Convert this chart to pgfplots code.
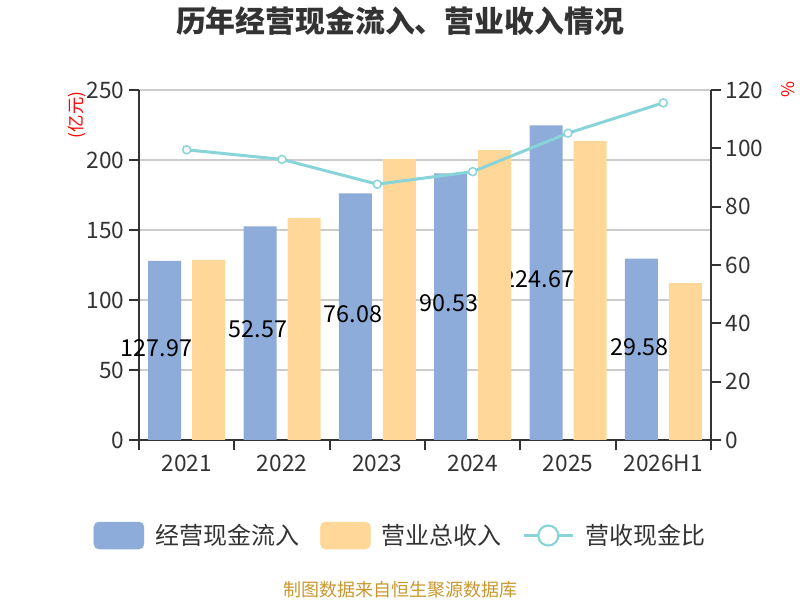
\documentclass[border=0pt]{standalone}
\usepackage{fontspec}
\setmainfont{Noto Sans CJK SC}
\usepackage{pgfplots}
\usepackage{pgfplotstable}
\pgfplotsset{compat=1.18}
\definecolor{cblue}{HTML}{8EACDA}
\definecolor{corange}{HTML}{FFD899}
\definecolor{cline}{HTML}{88D4D8}
\definecolor{axcol}{HTML}{333333}
\definecolor{gridcol}{HTML}{CCCCCC}
\definecolor{srccol}{HTML}{C8982E}

\pgfplotstableread{
x y
0 127.97
1 152.57
2 176.08
3 190.53
4 224.67
5 129.58
}\cash
\pgfplotstableread{
x y
0 128.6
1 158.6
2 200.7
3 207.0
4 213.6
5 112.1
}\rev
\pgfplotstableread{
x y label
-0.3164 65.4 127.97
0.7483 78.9 52.57
1.7448 89.6 76.08
2.7518 97.9 90.53
3.6906 114.6 224.67
4.7513 66.1 29.58
}\labs
\pgfplotstableread{
x y
0 99.5
1 96.2
2 87.7
3 92.0
4 105.2
5 115.6
}\ratio

\begin{document}
\begin{tikzpicture}
\useasboundingbox (0,0) rectangle (600pt,450pt);
\pgfplotsset{base/.style={
  at={(104.25pt,120pt)}, anchor=south west, scale only axis,
  width=429pt, height=262.5pt, xmin=-0.5, xmax=5.5,
  /pgf/number format/assume math mode=true,
  tick label style={font=\fontsize{17}{20}\selectfont, text=axcol},
  tick align=outside, major tick length=7.5pt,
  axis line style={draw=axcol, line width=1.3pt, -},
  tick style={draw=axcol, line width=1.3pt},
}}
\begin{axis}[base, ymin=0, ymax=250, ytick={0,50,...,250},
  axis x line*=bottom, axis y line*=left,
  xtick={-0.5,0.5,1.5,2.5,3.5,4.5,5.5}, x tick label as interval,
  xticklabels={2021,2022,2023,2024,2025,2026H1},
  ymajorgrids, grid style={draw=gridcol, line width=1pt}]
\addplot[ybar, bar width=24.75pt, bar shift=-16.5pt, fill=cblue, draw=none] table{\cash};
\addplot[only marks, mark=*, mark size=0pt, mark options={draw=none, fill=none},
  nodes near coords, point meta=explicit symbolic,
  every node near coord/.append style={anchor=center, font=\fontsize{17.5}{20}\selectfont, text=black, inner sep=0pt}]
  table[meta=label]{\labs};
\end{axis}
\begin{axis}[base, ymin=0, ymax=250, hide axis]
\addplot[ybar, bar width=24.75pt, bar shift=16.5pt, fill=corange, draw=none] table{\rev};
\end{axis}
\begin{axis}[base, ymin=0, ymax=120, ytick={0,20,...,120},
  axis y line*=right, axis x line=none,
  legend columns=3,
  legend style={at={(0.4554,-0.2729)}, anchor=center, draw=none, fill=none,
    inner sep=0pt, outer sep=0pt, font=\fontsize{18}{20}\selectfont, text=axcol,
    nodes={inner sep=0pt},
    /tikz/every even column/.append style={column sep=15.75pt}},
  legend cell align=left]
\addlegendimage{legend image code/.code={\fill[cblue, rounded corners=3.75pt] (0pt,-10.1pt) rectangle (37.5pt,10.1pt); \path (45.75pt,0pt);}}
\addlegendentry{经营现金流入}
\addlegendimage{legend image code/.code={\fill[corange, rounded corners=3.75pt] (0pt,-10.1pt) rectangle (37.5pt,10.1pt); \path (45.75pt,0pt);}}
\addlegendentry{营业总收入}
\addplot[cline, line width=2.25pt, mark=*, mark size=3pt,
  mark options={fill=white, draw=cline, line width=1.1pt},
  legend image code/.code={\draw[cline, line width=1.6pt] (0pt,0pt) -- (36.75pt,0pt); \draw[cline, line width=1.6pt, fill=white] (18.4pt,0pt) circle (7.5pt); \path (45pt,0pt);}]
  table{\ratio};
\addlegendentry{营收现金比}
\end{axis}
\node[font=\fontsize{22.4}{26}\selectfont\bfseries, text=axcol] at (300pt,433.9pt) {历年经营现金流入、营业收入情况};
\node[font=\fontsize{13}{15}\selectfont, text=red, rotate=90] at (57.75pt,363.75pt) {(亿元)};
\node[font=\fontsize{13}{15}\selectfont, text=red, rotate=90] at (591pt,382.5pt) {\%};
\node[font=\fontsize{13.5}{15}\selectfont, text=srccol] at (300pt,7.9pt) {制图数据来自恒生聚源数据库};
\end{tikzpicture}
\end{document}
